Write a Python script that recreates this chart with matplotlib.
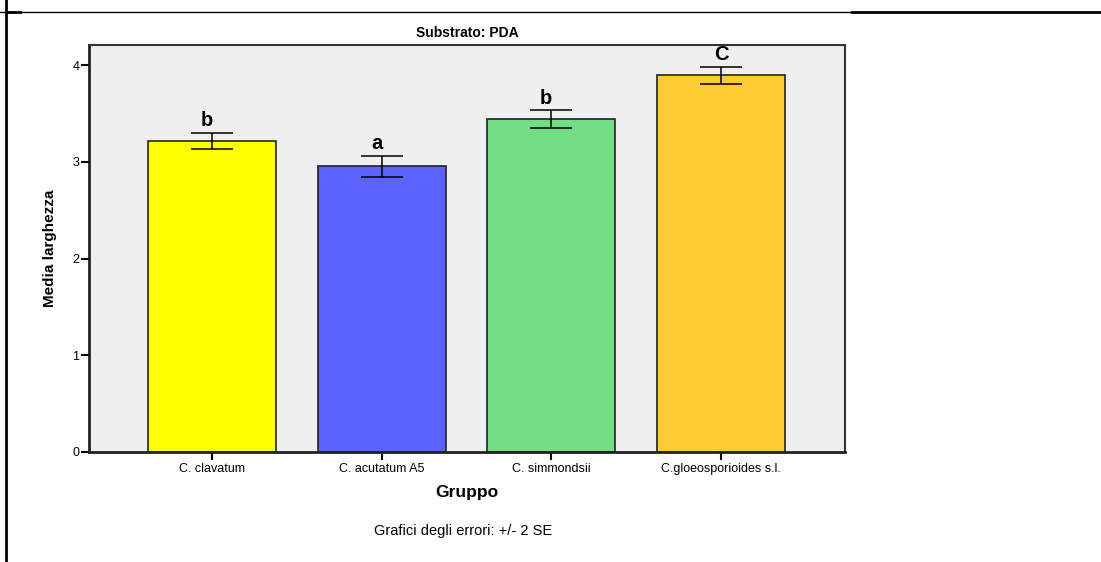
import numpy as np
import matplotlib.pyplot as plt
from matplotlib.lines import Line2D

plt.rcParams['font.family'] = ['Liberation Sans', 'DejaVu Sans']

# data
groups = ['C. clavatum', 'C. acutatum A5', 'C. simmondsii', 'C.gloeosporioides s.l.']
means = [3.22, 2.955, 3.44, 3.895]
err2se = [0.083, 0.108, 0.093, 0.088]
letters = ['b', 'a', 'b', 'C']
colors = ['#FFFF00', '#5C62FF', '#72DE85', '#FFCC33']

fig = plt.figure(figsize=(11.01, 5.62), dpi=100)
ax = fig.add_axes([89 / 1101, 1 - 452 / 562, (845 - 89) / 1101, (452 - 45) / 562])
ax.set_facecolor('#EFEFEF')

x = np.arange(len(groups))
ax.bar(x, means, width=0.753, color=colors, edgecolor='#222222', linewidth=1.2, zorder=2)
ax.errorbar(x, means, yerr=err2se, fmt='none', ecolor='black', elinewidth=1.1,
            capsize=15, capthick=1.1, zorder=3)

for xi, m, e, lab in zip(x, means, err2se, letters):
    ax.text(xi - 0.03 if lab != 'C' else xi, m + e + 0.03, lab, ha='center', va='bottom',
            fontsize=14.5, fontweight='bold')

ax.set_xlim(-0.724, 3.73)
ax.set_ylim(0, 4.21)
ax.set_yticks([0, 1, 2, 3, 4])
ax.set_xticks(x)
ax.set_xticklabels(groups, fontsize=9)
ax.tick_params(axis='y', labelsize=9, length=6, width=1.5, pad=1)
ax.tick_params(axis='x', length=6, width=1.5, pad=2)

for side in ['left', 'bottom']:
    ax.spines[side].set_linewidth(2)
    ax.spines[side].set_color('#222222')
for side in ['top', 'right']:
    ax.spines[side].set_linewidth(1.5)
    ax.spines[side].set_color('#333333')

ax.set_title('Substrato: PDA', fontsize=10, fontweight='bold', pad=6)
ax.set_xlabel('Gruppo', fontsize=12.5, fontweight='bold', labelpad=7)
ax.set_ylabel('Media larghezza', fontsize=11, fontweight='bold', labelpad=11)

fig.text(463 / 1101, 1 - 531 / 562, 'Grafici degli errori: +/- 2 SE', ha='center', va='center', fontsize=10.5)

# frame lines around the output page
fig.add_artist(Line2D([0, 852 / 1101], [1 - 11.5 / 562] * 2, color='black', linewidth=1))
fig.add_artist(Line2D([852 / 1101, 1], [1 - 11.5 / 562] * 2, color='black', linewidth=2))
fig.add_artist(Line2D([5.5 / 1101] * 2, [0, 1], color='black', linewidth=2))
fig.add_artist(Line2D([5.5 / 1101, 20 / 1101], [1 - 12 / 562] * 2, color='black', linewidth=2))

fig.savefig('out.png', dpi=100)
